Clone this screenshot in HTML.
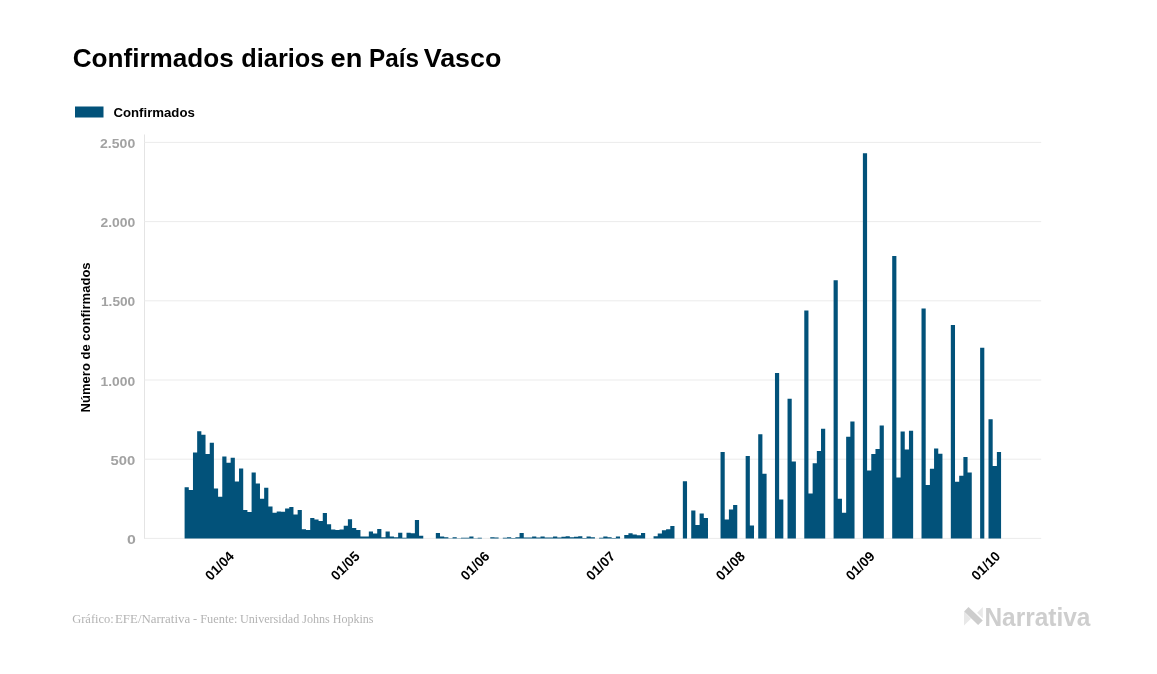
<!DOCTYPE html>
<html lang="es"><head><meta charset="utf-8"><title>Confirmados diarios en País Vasco</title>
<style>
html,body{margin:0;padding:0;background:#fff;}
svg{display:block}
text{font-family:"Liberation Sans",sans-serif;}
.title{font-weight:700;font-size:26.4px;fill:#000}
.leg{font-weight:700;font-size:13.6px;fill:#000}
.yl{font-weight:700;font-size:12.7px;fill:#a2a2a2}
.yt{font-weight:700;font-size:13.5px;fill:#000}
.xl{font-weight:700;font-size:13.7px;fill:#000}
.foot{font-family:"Liberation Serif",serif;font-size:13px;fill:#b3b3b3}
.logo{font-weight:700;font-size:26.6px;fill:#cecece}
</style></head><body>
<svg width="1157" height="674" viewBox="0 0 1157 674">
<rect width="1157" height="674" fill="#fff"/>
<text x="72.63" y="67.40" class="title" textLength="161.24" lengthAdjust="spacingAndGlyphs">Confirmados</text>
<text x="241.33" y="67.40" class="title" textLength="83.08" lengthAdjust="spacingAndGlyphs">diarios</text>
<text x="330.57" y="67.40" class="title" textLength="31.77" lengthAdjust="spacingAndGlyphs">en</text>
<text x="369.05" y="67.40" class="title" textLength="49.94" lengthAdjust="spacingAndGlyphs">País</text>
<text x="423.73" y="67.40" class="title" textLength="77.61" lengthAdjust="spacingAndGlyphs">Vasco</text>
<rect x="75" y="106.5" width="28.5" height="11" fill="#02527a"/>
<text x="113.44" y="117.00" class="leg" textLength="81.36" lengthAdjust="spacingAndGlyphs">Confirmados</text>
<rect x="144" y="134.5" width="1" height="404.4" fill="#e4e4e4"/>
<rect x="144.4" y="537.90" width="896.8" height="1" fill="#ebebeb"/>
<rect x="144.4" y="458.70" width="896.8" height="1" fill="#ebebeb"/>
<rect x="144.4" y="379.50" width="896.8" height="1" fill="#ebebeb"/>
<rect x="144.4" y="300.30" width="896.8" height="1" fill="#ebebeb"/>
<rect x="144.4" y="221.10" width="896.8" height="1" fill="#ebebeb"/>
<rect x="144.4" y="141.90" width="896.8" height="1" fill="#ebebeb"/>
<text x="100.07" y="148.00" class="yl" textLength="35.12" lengthAdjust="spacingAndGlyphs">2.500</text>
<text x="100.49" y="227.20" class="yl" textLength="34.85" lengthAdjust="spacingAndGlyphs">2.000</text>
<text x="100.97" y="306.40" class="yl" textLength="34.26" lengthAdjust="spacingAndGlyphs">1.500</text>
<text x="100.51" y="385.60" class="yl" textLength="34.57" lengthAdjust="spacingAndGlyphs">1.000</text>
<text x="110.41" y="464.80" class="yl" textLength="24.71" lengthAdjust="spacingAndGlyphs">500</text>
<text x="126.95" y="544.00" class="yl" textLength="8.85" lengthAdjust="spacingAndGlyphs">0</text>
<text transform="translate(90.2,412.4) rotate(-90)" class="yt" textLength="150" lengthAdjust="spacingAndGlyphs">Número de confirmados</text>
<path fill="#02527a" d="M184.60,538.40V487.30H188.79V490.00H192.97V452.60H197.16V431.20H201.35V434.80H205.53V454.00H209.72V442.80H213.91V488.60H218.10V496.70H222.28V456.50H226.47V462.70H230.66V457.80H234.84V481.40H239.03V468.60H243.22V509.90H247.41V512.10H251.59V472.40H255.78V483.40H259.97V498.70H264.15V487.80H268.34V506.40H272.53V512.70H276.71V511.60H280.90V511.70H285.09V508.40H289.27V507.00H293.46V514.60H297.65V510.10H301.84V529.30H306.02V530.10H310.21V518.00H314.40V519.40H318.58V521.00H322.77V512.90H326.96V524.20H331.14V529.50H335.33V530.10H339.52V529.50H343.71V525.70H347.89V519.30H352.08V528.10H356.27V530.10H360.45V536.40H364.64V536.40H368.83V531.60H373.01V533.50H377.20V529.10H381.39V537.20H385.58V531.50H389.76V536.50H393.95V537.20H398.14V532.70H402.32V537.80H406.51V532.70H410.70V533.20H414.88V520.00H419.07V535.80H423.26V538.40ZM435.82,538.40V533.10H440.01V536.50H444.19V537.20H448.38V538.20H452.57V537.20H456.75V538.20H460.94V537.80H465.13V537.80H469.32V536.50H473.50V538.20H477.69V537.80H481.88V538.40ZM490.25,538.40V537.20H494.44V537.60H498.62V538.40ZM502.81,538.40V537.70H507.00V537.20H511.19V537.90H515.37V537.30H519.56V533.10H523.75V537.40H527.93V537.40H532.12V536.60H536.31V537.40H540.50V536.60H544.68V537.40H548.87V537.40H553.06V536.50H557.24V537.40H561.43V536.70H565.62V536.30H569.80V537.20H573.99V536.70H578.18V536.30H582.37V538.00H586.55V536.60H590.74V537.20H594.93V538.40ZM599.11,538.40V537.80H603.30V536.60H607.49V537.20H611.67V538.00H615.86V536.60H620.05V538.40ZM624.24,538.40V535.10H628.42V533.30H632.61V534.50H636.80V535.20H640.98V533.00H645.17V538.40ZM653.54,538.40V536.20H657.73V533.50H661.92V530.20H666.11V529.30H670.29V526.10H674.48V538.40ZM682.85,538.40V481.30H687.04V538.40ZM691.23,538.40V510.40H695.41V524.90H699.60V513.50H703.79V517.90H707.98V538.40ZM720.54,538.40V452.00H724.72V519.40H728.91V509.60H733.10V505.10H737.28V538.40ZM745.66,538.40V456.10H749.85V525.60H754.03V538.40ZM758.22,538.40V434.30H762.41V473.80H766.59V538.40ZM774.97,538.40V372.90H779.15V499.60H783.34V538.40ZM787.53,538.40V398.70H791.72V461.60H795.90V538.40ZM804.28,538.40V310.40H808.46V493.60H812.65V463.20H816.84V451.00H821.02V428.80H825.21V538.40ZM833.59,538.40V280.30H837.77V498.70H841.96V512.70H846.15V436.70H850.33V421.50H854.52V538.40ZM862.89,538.40V153.25H867.08V470.60H871.27V453.90H875.46V449.00H879.64V425.50H883.83V538.40ZM892.20,538.40V256.00H896.39V477.40H900.58V431.60H904.76V449.50H908.95V430.80H913.14V538.40ZM921.51,538.40V308.60H925.70V485.00H929.89V468.80H934.07V448.40H938.26V453.80H942.45V538.40ZM950.82,538.40V324.90H955.01V481.70H959.20V475.70H963.38V457.00H967.57V472.50H971.76V538.40ZM980.13,538.40V347.80H984.32V538.40ZM988.50,538.40V419.20H992.69V466.00H996.88V452.10H1001.07V538.40Z"/>
<text transform="translate(235.00,557.00) rotate(-45)" text-anchor="end" class="xl">01/04</text>
<text transform="translate(360.61,557.00) rotate(-45)" text-anchor="end" class="xl">01/05</text>
<text transform="translate(490.41,557.00) rotate(-45)" text-anchor="end" class="xl">01/06</text>
<text transform="translate(616.02,557.00) rotate(-45)" text-anchor="end" class="xl">01/07</text>
<text transform="translate(745.81,557.00) rotate(-45)" text-anchor="end" class="xl">01/08</text>
<text transform="translate(875.61,557.00) rotate(-45)" text-anchor="end" class="xl">01/09</text>
<text transform="translate(1001.22,557.00) rotate(-45)" text-anchor="end" class="xl">01/10</text>

<text x="72.20" y="622.90" class="foot" textLength="41.58" lengthAdjust="spacingAndGlyphs">Gráfico:</text>
<text x="114.99" y="622.90" class="foot" textLength="75.18" lengthAdjust="spacingAndGlyphs">EFE/Narrativa</text>
<text x="193.04" y="622.90" class="foot" textLength="44.29" lengthAdjust="spacingAndGlyphs">- Fuente:</text>
<text x="239.97" y="622.90" class="foot" textLength="89.86" lengthAdjust="spacingAndGlyphs">Universidad Johns</text>
<text x="332.70" y="622.90" class="foot" textLength="40.85" lengthAdjust="spacingAndGlyphs">Hopkins</text>
<polygon points="964,611.6 964,625.4 970.9,618.8" fill="#e8e8e8"/>
<polygon points="982.8,607 982.8,618.3 977.1,612.8" fill="#e8e8e8"/>
<polygon points="968.5,607 964.1,611.4 978.1,624.9 982.8,620.4" fill="#cdcdcd"/>
<text x="984.45" y="625.70" class="logo" textLength="105.95" lengthAdjust="spacingAndGlyphs">Narrativa</text>
</svg>
</body></html>
